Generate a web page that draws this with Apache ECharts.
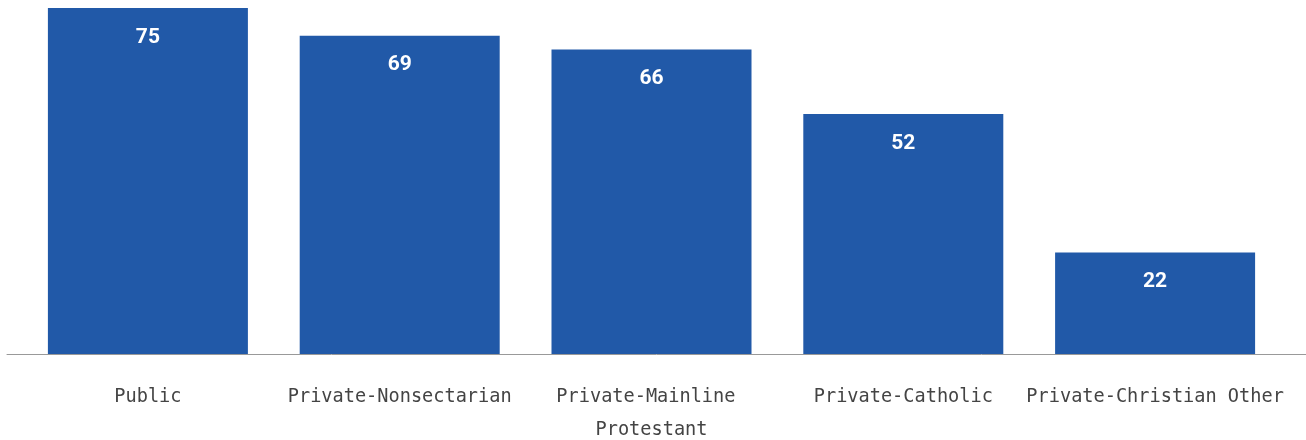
<!DOCTYPE html>
<html>
<head>
<meta charset="utf-8">
<script src="https://cdn.jsdelivr.net/npm/echarts@6/dist/echarts.min.js"></script>
<style>
html,body{margin:0;padding:0;background:#fff;}
#chart{width:1306px;height:440px;}
</style>
</head>
<body>
<div id="chart"></div>
<script>
var categories = ['Public', 'Private-Nonsectarian', 'Private-Mainline Protestant', 'Private-Catholic', 'Private-Christian Other'];
var values = [75, 69, 66, 52, 22];

var chart = echarts.init(document.getElementById('chart'));
var option = {
    animation: false,
    grid: [
        { left: 22, right: 25, top: 8, bottom: 86, outerBoundsMode: 'none' },
        { left: 7, right: 0, top: 8, bottom: 86, outerBoundsMode: 'none' }
    ],
    xAxis: [
        {
            type: 'category',
            gridIndex: 0,
            data: categories,
            axisLine: { show: false },
            axisTick: { show: false },
            axisLabel: {
                margin: 27,
                fontFamily: 'DejaVu Sans Mono',
                fontSize: 18.6,
                lineHeight: 33,
                color: '#444',
                width: 266,
                overflow: 'break',
                interval: 0
            }
        },
        {
            type: 'category',
            gridIndex: 1,
            data: [],
            axisLine: { show: true, lineStyle: { color: '#999', width: 1 } },
            axisTick: { show: false },
            axisLabel: { show: false }
        }
    ],
    yAxis: [
        { type: 'value', gridIndex: 0, min: 0, max: 75, show: false },
        { type: 'value', gridIndex: 1, min: 0, max: 75, show: false }
    ],
    series: [
        {
            type: 'bar',
            xAxisIndex: 0,
            yAxisIndex: 0,
            data: values,
            barWidth: 200,
            itemStyle: { color: '#2159a8' },
            label: {
                show: true,
                position: 'insideTop',
                distance: 19,
                color: '#fff',
                fontFamily: 'Roboto',
                fontWeight: 'bold',
                fontSize: 21,
                lineHeight: 21
            }
        }
    ]
};
chart.setOption(option);
</script>
</body>
</html>
